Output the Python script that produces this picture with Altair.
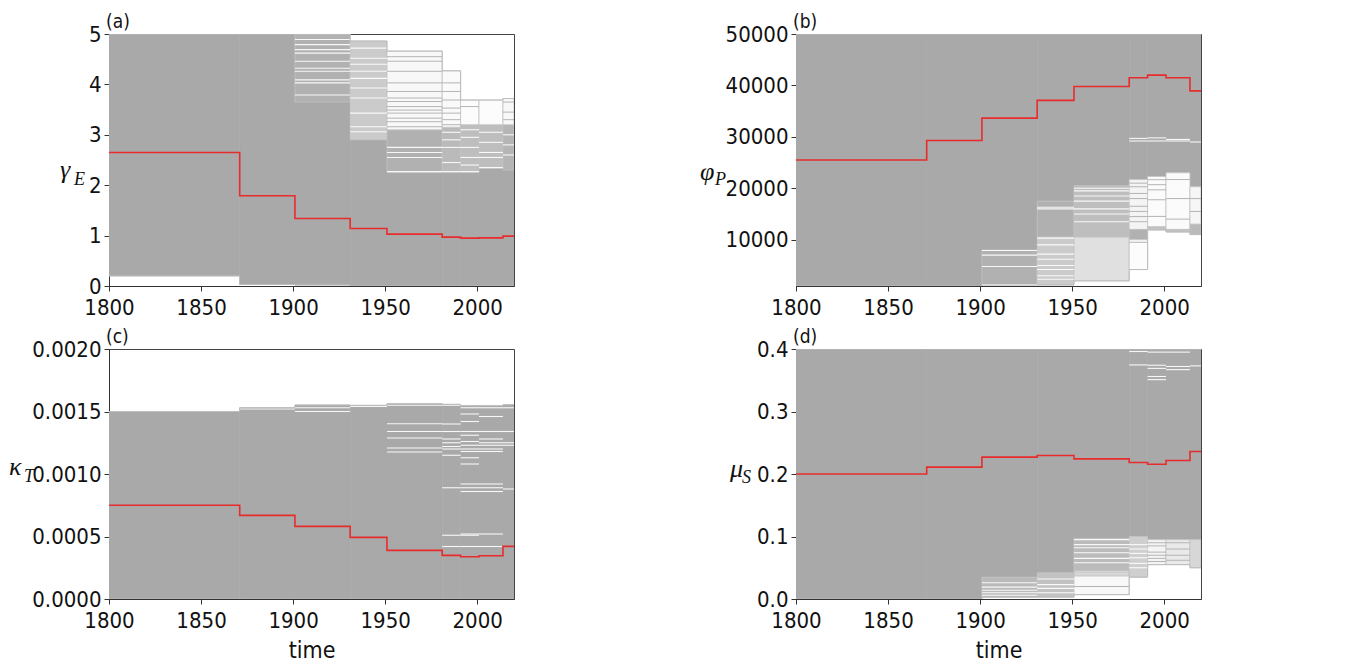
import altair as alt
import pandas as pd

# ---------------- data ----------------
breaks = [1800, 1871, 1901, 1931, 1951, 1981, 1991, 2001, 2014, 2020]
x_ticks = [1800, 1850, 1900, 1950, 2000]

# panel (a) gamma_E
a_median = [2.65, 1.79, 1.34, 1.14, 1.03, 0.97, 0.95, 0.955, 0.99]
a_min = [0.2, 0.03, 0.02, 0.0, 0.0, 0.0, 0.0, 0.0, 0.0]
a_max = [5.0, 5.0, 5.0, 4.86, 4.66, 4.27, 3.69, 3.69, 3.72]
a_bands = [  # (segment, low, high, density of runs)
    (0, 0.2, 5.0, 1.0), (1, 0.03, 5.0, 1.0),
    (2, 0.02, 3.65, 1.0), (2, 3.65, 5.0, 0.9),
    (3, 0.0, 2.9, 1.0), (3, 2.9, 4.86, 0.6),
    (4, 0.0, 2.25, 1.0), (4, 2.25, 3.1, 0.9), (4, 3.1, 4.66, 0.08),
    (5, 0.0, 2.25, 1.0), (5, 2.25, 3.15, 0.8), (5, 3.15, 4.27, 0.06),
    (6, 0.0, 2.25, 1.0), (6, 2.25, 3.2, 0.75), (6, 3.2, 3.69, 0.03),
    (7, 0.0, 2.33, 1.0), (7, 2.33, 3.2, 0.75), (7, 3.2, 3.69, 0.03),
    (8, 0.0, 2.3, 1.0), (8, 2.3, 3.2, 0.85), (8, 3.2, 3.72, 0.08),
]
a_gaps = {  # white gaps inside the grey mass
    2: [4.89, 4.79, 4.69, 4.62, 4.46, 4.32, 4.26, 4.09, 4.03, 3.79],
    3: [4.72, 4.52, 4.4, 4.26, 4.12, 3.93, 3.73, 3.43, 3.16, 3.06],
    4: [2.75, 2.65, 2.55, 2.27],
    5: [3.05, 2.9, 2.75, 2.45, 2.27],
    6: [3.1, 2.95, 2.75, 2.55, 2.4, 2.27],
    7: [3.05, 2.85, 2.65, 2.55, 2.35],
    8: [3.0, 2.8, 2.6],
}
a_runs = {  # single grey runs in the mostly white part
    4: [4.55, 4.46, 4.26, 4.03, 3.86, 3.73, 3.66, 3.56, 3.49, 3.43, 3.33, 3.26, 3.16],
    5: [4.03, 3.86, 3.69, 3.53, 3.43, 3.3, 3.2],
    6: [3.56],
    8: [3.65, 3.45, 3.3],
}

# panel (b) phi_P
b_median = [25500, 29300, 33650, 37100, 39800, 41500, 42000, 41500, 38950]
b_min = [1000, 1000, 1200, 1200, 2000, 4200, 11900, 11500, 11000]
b_max = [50000] * 9
b_bands = [
    (0, 1000, 50000, 1.0), (1, 1000, 50000, 1.0),
    (2, 8000, 50000, 1.0), (2, 1200, 8000, 0.9),
    (3, 17500, 50000, 1.0), (3, 10500, 17500, 0.92), (3, 1200, 10500, 0.6),
    (4, 20500, 50000, 1.0), (4, 10500, 20500, 0.75), (4, 2000, 10500, 0.35),
    (5, 21700, 50000, 1.0), (5, 12000, 21700, 0.12), (5, 10000, 12000, 0.9), (5, 4200, 10000, 0.03),
    (6, 22300, 50000, 1.0), (6, 12500, 22300, 0.04), (6, 11900, 12500, 0.7),
    (7, 23000, 50000, 1.0), (7, 12000, 23000, 0.04), (7, 11500, 12000, 0.7),
    (8, 20300, 50000, 1.0), (8, 13000, 20300, 0.1), (8, 11000, 13000, 0.8),
]
b_gaps = {
    2: [7900, 7000, 4800, 1300],
    3: [16300, 16000, 10300, 9000, 7200, 6200, 5000, 4200, 3000, 2300],
    4: [20000, 19500, 18500, 17500, 16000, 15000, 13500],
    5: [29700, 29200],
    6: [29800, 29200],
    7: [29500, 29200],
    8: [29000],
}
b_runs = {
    5: [21000, 20300, 19000, 18000, 16500, 15500, 14500, 13500, 9500],
    6: [21670, 20700, 19700, 17770, 14530],
    7: [21700, 18000, 14000],
    8: [18000, 15500],
}

# panel (c) kappa_T
c_median = [0.00075, 0.000669, 0.000581, 0.000493, 0.000389, 0.000349, 0.000338, 0.000346, 0.000421]
c_min = [0.0] * 9
c_max = [0.0015, 0.00153, 0.001552, 0.001549, 0.001562, 0.001557, 0.001546, 0.001546, 0.001554]
c_bands = [(s, 0.0, c_max[s], 1.0) for s in range(9)]
c_gaps = {
    1: [0.00152],
    2: [0.00153, 0.0015],
    3: [0.00154],
    4: [0.00155, 0.001402, 0.00134, 0.001288, 0.001208, 0.001176],
    5: [0.00155, 0.0014, 0.00134, 0.00128, 0.00125, 0.00122, 0.0012, 0.00115, 0.00089, 0.00051, 0.00042],
    6: [0.00153, 0.00148, 0.00142, 0.00134, 0.00131, 0.00126, 0.00123, 0.0012, 0.00118, 0.00113,
        0.00108, 0.00092, 0.00089, 0.00086, 0.00052, 0.00051, 0.00042],
    7: [0.00153, 0.00146, 0.00134, 0.00128, 0.00125, 0.00123, 0.0012, 0.00118, 0.00092, 0.00089,
        0.00086, 0.00052, 0.00042],
    8: [0.00153, 0.00134, 0.00125, 0.00123, 0.00088],
}
c_runs = {}

# panel (d) mu_S
d_median = [0.200, 0.211, 0.227, 0.2296, 0.2242, 0.2183, 0.2157, 0.2215, 0.2359]
d_min = [0.0, 0.0, 0.003, 0.003, 0.007, 0.035, 0.055, 0.055, 0.05]
d_max = [0.4] * 9
d_bands = [
    (0, 0.0, 0.4, 1.0), (1, 0.0, 0.4, 1.0),
    (2, 0.035, 0.4, 1.0), (2, 0.003, 0.035, 0.8),
    (3, 0.042, 0.4, 1.0), (3, 0.003, 0.042, 0.7),
    (4, 0.097, 0.4, 1.0), (4, 0.045, 0.097, 0.78), (4, 0.007, 0.045, 0.08),
    (5, 0.1, 0.4, 1.0), (5, 0.035, 0.1, 0.55),
    (6, 0.095, 0.4, 1.0), (6, 0.055, 0.095, 0.12),
    (7, 0.095, 0.4, 1.0), (7, 0.055, 0.095, 0.25),
    (8, 0.095, 0.4, 1.0), (8, 0.05, 0.095, 0.45),
]
d_gaps = {
    2: [0.026, 0.019, 0.014, 0.010, 0.006],
    3: [0.032, 0.023, 0.017, 0.010],
    4: [0.095, 0.087, 0.082, 0.074, 0.065, 0.058],
    5: [0.396, 0.3745, 0.087, 0.080, 0.073, 0.066, 0.057, 0.050],
    6: [0.395, 0.374, 0.369, 0.356, 0.351],
    7: [0.395, 0.372, 0.367],
    8: [0.373],
}
d_runs = {
    4: [0.043, 0.040, 0.037, 0.02],
    6: [0.09, 0.085, 0.075, 0.07, 0.065, 0.06],
    7: [0.09, 0.08, 0.07, 0.062],
}

# ---------------- styling ----------------
FONT = "DejaVu Sans Condensed, DejaVu Sans, sans-serif"
MATH = "Liberation Serif, DejaVu Serif, serif"
GRAY = "#a9a9a9"
RED = "#e82c2c"


def step_df(vals, key="m"):
    return pd.DataFrame({"t": breaks, "v": list(vals) + [vals[-1]], "k": key})


def band_df(bands):
    return pd.DataFrame([{"x0": breaks[s], "x1": breaks[s + 1], "lo": lo, "hi": hi, "d": d}
                         for s, lo, hi, d in bands])


def level_df(levels):
    rows = [{"x0": breaks[s], "x1": breaks[s + 1], "v": v} for s, vs in levels.items() for v in vs]
    if not rows:
        rows = [{"x0": 1800, "x1": 1800, "v": -1e9}]
    return pd.DataFrame(rows)


def txt(text, x, y, size, font, style="normal"):
    return alt.Chart(pd.DataFrame({"z": [0]})).mark_text(
        text=text, font=font, fontSize=size, fontStyle=style, align="left",
        baseline="alphabetic", color="#111").encode(x=alt.value(x), y=alt.value(y))


def panel(bands, gaps, runs, lo_env, hi_env, median, ydom, yticks, yfmt,
          letter, sub, lpos, spos, label, xtitle, height):
    xs = alt.Scale(domain=[1800, 2020], nice=False, zero=False)
    ys = alt.Scale(domain=ydom, nice=False, zero=False)
    xax = alt.Axis(values=x_ticks, format="d", title=xtitle, labelFlush=False)
    yax = alt.Axis(values=yticks, format=yfmt, title=None)

    def X(f):
        return alt.X(f, type="quantitative", scale=xs, axis=xax)

    def Y(f):
        return alt.Y(f, type="quantitative", scale=ys, axis=yax)

    bd = band_df(bands)
    dense = alt.Chart(bd).transform_filter("datum.d >= 1").mark_rect(
        color=GRAY, stroke=GRAY, strokeWidth=0.6, clip=True).encode(
        x=X("x0"), x2="x1:Q", y=Y("lo"), y2="hi:Q")
    sparse = alt.Chart(bd).transform_filter("datum.d < 1").mark_rect(
        stroke="#c2c2c2", strokeWidth=0.8, clip=True).encode(
        x=X("x0"), x2="x1:Q", y=Y("lo"), y2="hi:Q",
        fill=alt.Fill("d:Q", scale=alt.Scale(domain=[0, 1], range=["#ffffff", GRAY]), legend=None))
    gl = alt.Chart(level_df(gaps)).mark_rule(color="#ffffff", strokeWidth=1.1, opacity=0.9,
                                             clip=True).encode(x=X("x0"), x2="x1:Q", y=Y("v"))
    rl = alt.Chart(level_df(runs)).mark_rule(color="#b4b4b4", strokeWidth=1,
                                             clip=True).encode(x=X("x0"), x2="x1:Q", y=Y("v"))
    env = alt.Chart(pd.concat([step_df(lo_env, "lo"), step_df(hi_env, "hi")])).mark_line(
        color="#bdbdbd", strokeWidth=1, interpolate="step-after", clip=True).encode(
        x=X("t"), y=Y("v"), detail="k:N")
    red = alt.Chart(step_df(median)).mark_line(
        color=RED, strokeWidth=1.6, interpolate="step-after", clip=True).encode(x=X("t"), y=Y("v"))
    t1 = txt(letter, lpos[0], lpos[1], 26, MATH, "italic")
    t2 = txt(sub, spos[0], spos[1], 18, MATH, "italic")
    t3 = txt(label, -3, -6, 19, FONT)
    return alt.layer(dense, sparse, gl, rl, env, red, t1, t2, t3).properties(width=405, height=height)


pa = panel(a_bands, a_gaps, a_runs, a_min, a_max, a_median, [0, 5], [0, 1, 2, 3, 4, 5], "d",
           "γ", "E", (-49, 144), (-35, 151), "(a)", None, 252)
pb = panel(b_bands, b_gaps, b_runs, b_min, b_max, b_median, [1000, 50000],
           [10000, 20000, 30000, 40000, 50000], "d",
           "φ", "P", (-96, 146), (-81, 151), "(b)", None, 252)
pc = panel(c_bands, c_gaps, c_runs, c_min, c_max, c_median, [0, 0.002],
           [0, 0.0005, 0.001, 0.0015, 0.002], ".4f",
           "κ", "T", (-100, 126), (-85, 133), "(c)", "time", 250)
pd_ = panel(d_bands, d_gaps, d_runs, d_min, d_max, d_median, [0, 0.4],
            [0, 0.1, 0.2, 0.3, 0.4], ".1f",
            "μ", "S", (-66, 128), (-54, 134), "(d)", "time", 250)

chart = alt.concat(pa, pb, pc, pd_, columns=2,
                   spacing=alt.RowColnumber(row=63, column=282), bounds="flush").properties(
    padding={"left": 0, "top": 4, "right": 5, "bottom": 5}
).configure_axis(
    labelFont=FONT, labelFontSize=22, labelColor="#111", titleFont=FONT, titleFontSize=23,
    titleColor="#111", titleFontWeight="normal", tickColor="#333", domainColor="#333",
    tickSize=5, grid=False, labelPadding=3, titlePadding=3
).configure_axisX(labelPadding=6, titlePadding=8).configure_view(stroke="#444", strokeWidth=1)

chart.save("out.html", embed_options={"renderer": "svg", "actions": False})
